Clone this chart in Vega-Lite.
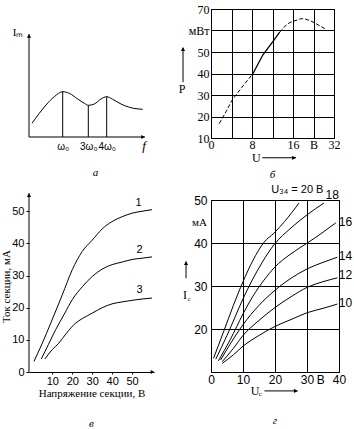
{
  "$schema": "https://vega.github.io/schema/vega-lite/v6.json",
  "background": "white",
  "padding": {"left": 0, "top": 2, "right": 0, "bottom": 0},
  "config": {
    "view": {"stroke": null},
    "axis": {"labelColor": "black", "titleColor": "black", "domainColor": "black", "tickColor": "black", "gridColor": "black", "gridOpacity": 1, "domainWidth": 1, "gridWidth": 1, "labelFont": "Liberation Sans", "titleFont": "Liberation Serif", "titleFontWeight": "normal", "labelFontSize": 11, "titleFontSize": 11, "labelFlush": false, "labelOverlap": false},
    "line": {"color": "black", "strokeWidth": 1},
    "rule": {"color": "black", "strokeWidth": 1},
    "text": {"color": "black", "font": "Liberation Sans", "fontSize": 11},
    "point": {"color": "black", "filled": true, "opacity": 1},
    "title": {"font": "Liberation Serif", "fontStyle": "italic", "fontWeight": "normal", "fontSize": 11, "color": "black"}
  },
  "columns": 2,
  "align": "none",
  "bounds": "flush",
  "spacing": {"row": 62, "column": 49},
  "concat": [
    {
      "width": 133, "height": 129,
      "title": {"text": "а", "offset": 14, "orient": "bottom"},
      "encoding": {
        "x": {"field": "x", "type": "quantitative", "scale": {"domain": [0, 133], "nice": false, "zero": false}, "axis": {"title": null, "domain": false, "ticks": false, "grid": false, "values": [33.7, 59.3, 77.7], "labelExpr": "datum.value < 40 ? 'ω₀' : (datum.value < 70 ? '3ω₀' : '4ω₀')", "labelFontSize": 10, "labelPadding": 3}},
        "y": {"field": "y", "type": "quantitative", "scale": {"domain": [-1, 128], "nice": false, "zero": false}, "axis": null}
      },
      "layer": [
        {
          "data": {"values": [{"x": 3, "y": 13.7}, {"x": 10.3, "y": 23.7}, {"x": 17, "y": 32}, {"x": 25.3, "y": 40.3}, {"x": 33.7, "y": 45.3}, {"x": 40.3, "y": 43.7}, {"x": 48.7, "y": 38}, {"x": 55.3, "y": 33.7}, {"x": 59.3, "y": 31.7}, {"x": 65.3, "y": 33}, {"x": 72, "y": 38}, {"x": 77.7, "y": 40.3}, {"x": 83.7, "y": 37.7}, {"x": 92, "y": 33}, {"x": 100.3, "y": 29.7}, {"x": 113.7, "y": 27.7}]},
          "mark": {"type": "line", "interpolate": "monotone"}
        },
        {
          "data": {"values": [{"x": 33.7, "y": 0, "y2": 45.3}, {"x": 59.3, "y": 0, "y2": 31.7}, {"x": 77.7, "y": 0, "y2": 40.3}]},
          "mark": "rule",
          "encoding": {"y2": {"field": "y2"}}
        },
        {
          "data": {"values": [{"x": 0, "x2": 116, "y": 0}]},
          "mark": "rule",
          "encoding": {"x2": {"field": "x2"}}
        },
        {
          "data": {"values": [{"x": 0, "y": 0, "y2": 103}]},
          "mark": "rule",
          "encoding": {"y2": {"field": "y2"}}
        },
        {
          "data": {"values": [{"x": 0, "y": 101}]},
          "mark": {"type": "point", "shape": "triangle-up", "size": 18}
        },
        {
          "data": {"values": [{"x": 114, "y": 0}]},
          "mark": {"type": "point", "shape": "triangle-right", "size": 18}
        },
        {
          "data": {"values": [{"label": "Iₘ", "x": -11, "y": 104}]},
          "mark": {"type": "text", "font": "Liberation Serif", "fontSize": 11},
          "encoding": {"text": {"field": "label", "type": "nominal"}}
        },
        {
          "data": {"values": [{"label": "f", "x": 115, "y": -9}]},
          "mark": {"type": "text", "font": "Liberation Serif", "fontStyle": "italic", "fontSize": 13},
          "encoding": {"text": {"field": "label", "type": "nominal"}}
        }
      ]
    },
    {
      "width": 123, "height": 129,
      "view": {"stroke": "black", "strokeWidth": 1},
      "title": {"text": "б", "offset": 5, "orient": "bottom"},
      "encoding": {
        "x": {"field": "x", "type": "quantitative", "scale": {"domain": [0, 24], "nice": false, "zero": false}, "axis": {"title": null, "values": [0, 4, 8, 12, 16, 20, 24], "grid": true, "ticks": false, "domain": false, "labelFont": "Liberation Serif", "labelFontSize": 12, "labelPadding": 1, "labelExpr": "datum.value == 0 ? '0' : datum.value == 8 ? '8' : datum.value == 16 ? '16' : datum.value == 20 ? 'В' : datum.value == 24 ? '32' : ''"}},
        "y": {"field": "y", "type": "quantitative", "scale": {"domain": [10, 70], "nice": false, "zero": false}, "axis": {"title": null, "values": [10, 20, 30, 40, 50, 60, 70], "grid": true, "ticks": false, "domain": false, "labelFont": "Liberation Serif", "labelFontSize": 12, "labelPadding": 2, "labelExpr": "datum.value == 60 ? 'мВт' : datum.label"}}
      },
      "layer": [
        {
          "data": {"values": [{"x": 1.6, "y": 16.7}, {"x": 3, "y": 22.5}, {"x": 4.1, "y": 27.6}, {"x": 6, "y": 33.5}, {"x": 8.2, "y": 40}]},
          "mark": {"type": "line", "strokeDash": [4, 2]}
        },
        {
          "data": {"values": [{"x": 8.2, "y": 40}, {"x": 10.1, "y": 48.6}, {"x": 12.1, "y": 54.9}, {"x": 13.4, "y": 59.2}]},
          "mark": {"type": "line", "strokeWidth": 1.3}
        },
        {
          "data": {"values": [{"x": 13.4, "y": 59.2}, {"x": 15, "y": 63.1}, {"x": 16.6, "y": 64.7}, {"x": 17.8, "y": 65.5}, {"x": 19.2, "y": 64.7}, {"x": 20.9, "y": 62.6}, {"x": 22.4, "y": 60.6}]},
          "mark": {"type": "line", "interpolate": "monotone", "strokeDash": [4, 2]}
        },
        {
          "data": {"values": [{"x": -5.46, "y": 36, "y2": 52}]},
          "mark": "rule",
          "encoding": {"y2": {"field": "y2"}}
        },
        {
          "data": {"values": [{"x": -5.46, "y": 51.3}]},
          "mark": {"type": "point", "shape": "triangle-up", "size": 18}
        },
        {
          "data": {"values": [{"x": 10, "x2": 16.6, "y": 0.8}]},
          "mark": "rule",
          "encoding": {"x2": {"field": "x2"}}
        },
        {
          "data": {"values": [{"x": 16.2, "y": 0.8}]},
          "mark": {"type": "point", "shape": "triangle-right", "size": 18}
        },
        {
          "data": {"values": [{"label": "P", "x": -5.66, "y": 32.8}, {"label": "U", "x": 8.84, "y": 0.8}]},
          "mark": {"type": "text", "font": "Liberation Serif", "fontSize": 12},
          "encoding": {"text": {"field": "label", "type": "nominal"}}
        }
      ]
    },
    {
      "width": 125, "height": 172,
      "title": {"text": "в", "offset": 20, "orient": "bottom"},
      "encoding": {
        "x": {"field": "x", "type": "quantitative", "scale": {"domain": [-1.7, 61], "nice": false, "zero": false}, "axis": {"title": "Напряжение секции, В", "values": [10, 20, 30, 40, 50], "grid": false, "ticks": true, "tickSize": 2, "domain": true, "labelPadding": 1, "titlePadding": 1}},
        "y": {"field": "y", "type": "quantitative", "scale": {"domain": [0, 53.5], "nice": false, "zero": false}, "axis": {"title": "Ток секции, мА", "values": [0, 10, 20, 30, 40, 50], "grid": false, "domain": false, "ticks": true, "tickSize": 3, "labelPadding": 2, "titlePadding": 0}}
      },
      "layer": [
        {
          "data": {"values": [
            {"n": "1", "x": 0.8, "y": 3.3}, {"n": "1", "x": 5, "y": 9}, {"n": "1", "x": 9.2, "y": 15.2}, {"n": "1", "x": 15, "y": 24}, {"n": "1", "x": 20, "y": 31.8}, {"n": "1", "x": 25, "y": 37.5}, {"n": "1", "x": 30, "y": 41}, {"n": "1", "x": 35, "y": 44.5}, {"n": "1", "x": 40, "y": 46.8}, {"n": "1", "x": 45, "y": 48.3}, {"n": "1", "x": 50, "y": 49.4}, {"n": "1", "x": 55, "y": 50}, {"n": "1", "x": 60, "y": 50.5},
            {"n": "2", "x": 4.5, "y": 4.1}, {"n": "2", "x": 8, "y": 8.5}, {"n": "2", "x": 11.7, "y": 13.2}, {"n": "2", "x": 16, "y": 18}, {"n": "2", "x": 20, "y": 22.5}, {"n": "2", "x": 25, "y": 26.5}, {"n": "2", "x": 30, "y": 29.7}, {"n": "2", "x": 35, "y": 32}, {"n": "2", "x": 40, "y": 33.4}, {"n": "2", "x": 45, "y": 34.2}, {"n": "2", "x": 50, "y": 35}, {"n": "2", "x": 55, "y": 35.4}, {"n": "2", "x": 60, "y": 35.8},
            {"n": "3", "x": 6.3, "y": 4.1}, {"n": "3", "x": 10, "y": 7}, {"n": "3", "x": 13.3, "y": 9}, {"n": "3", "x": 17, "y": 12}, {"n": "3", "x": 21.7, "y": 15.2}, {"n": "3", "x": 25, "y": 16.6}, {"n": "3", "x": 30, "y": 18.3}, {"n": "3", "x": 35, "y": 20}, {"n": "3", "x": 40, "y": 21.2}, {"n": "3", "x": 45, "y": 21.8}, {"n": "3", "x": 50, "y": 22.3}, {"n": "3", "x": 55, "y": 22.7}, {"n": "3", "x": 60, "y": 23}
          ]},
          "mark": {"type": "line", "interpolate": "monotone"},
          "encoding": {"detail": {"field": "n", "type": "nominal"}}
        },
        {
          "data": {"values": [{"x": -1.7, "y": 0, "y2": 55.6}]},
          "mark": "rule",
          "encoding": {"y2": {"field": "y2"}}
        },
        {
          "data": {"values": [{"x": -1.7, "y": 55}]},
          "mark": {"type": "point", "shape": "triangle-up", "size": 18}
        },
        {
          "data": {"values": [{"x": 60.3, "y": 0}]},
          "mark": {"type": "point", "shape": "triangle-right", "size": 18}
        },
        {
          "data": {"values": [{"n": "1", "x": 53.3, "y": 52.6}, {"n": "2", "x": 53.7, "y": 38}, {"n": "3", "x": 53.7, "y": 25.6}]},
          "mark": {"type": "text", "fontSize": 11},
          "encoding": {"text": {"field": "n", "type": "nominal"}}
        }
      ]
    },
    {
      "width": 128, "height": 172,
      "view": {"stroke": "black", "strokeWidth": 1},
      "title": {"text": "г", "offset": 18, "orient": "bottom"},
      "encoding": {
        "x": {"field": "x", "type": "quantitative", "scale": {"domain": [0, 40], "nice": false, "zero": false}, "axis": {"title": null, "values": [0, 10, 20, 30, 40], "grid": true, "ticks": false, "domain": false, "labelFontSize": 12, "labelPadding": 2}},
        "y": {"field": "y", "type": "quantitative", "scale": {"domain": [10, 50], "nice": false, "zero": false}, "axis": {"title": null, "values": [20, 30, 40, 50], "grid": true, "ticks": false, "domain": false, "labelFontSize": 12, "labelPadding": 4}}
      },
      "layer": [
        {
          "data": {"values": [
            {"k": 20, "x": 0.8, "y": 13.2}, {"k": 20, "x": 4, "y": 19.5}, {"k": 20, "x": 7, "y": 25.5}, {"k": 20, "x": 10, "y": 31}, {"k": 20, "x": 13, "y": 35.8}, {"k": 20, "x": 16.6, "y": 40.2}, {"k": 20, "x": 19.7, "y": 42.3}, {"k": 20, "x": 23, "y": 45}, {"k": 20, "x": 27.5, "y": 49.3},
            {"k": 18, "x": 1.5, "y": 13}, {"k": 18, "x": 5, "y": 18.5}, {"k": 18, "x": 10, "y": 27}, {"k": 18, "x": 12.9, "y": 31.4}, {"k": 18, "x": 16, "y": 35.5}, {"k": 18, "x": 19.7, "y": 39.6}, {"k": 18, "x": 25, "y": 43.5}, {"k": 18, "x": 30.1, "y": 46.6}, {"k": 18, "x": 35.3, "y": 49.3},
            {"k": 16, "x": 2.3, "y": 12.6}, {"k": 16, "x": 6, "y": 17.5}, {"k": 16, "x": 10, "y": 23.5}, {"k": 16, "x": 13, "y": 27.5}, {"k": 16, "x": 16.6, "y": 31.4}, {"k": 16, "x": 19.7, "y": 34.2}, {"k": 16, "x": 25, "y": 37.5}, {"k": 16, "x": 30.1, "y": 40}, {"k": 16, "x": 35, "y": 42.5}, {"k": 16, "x": 39, "y": 44.7},
            {"k": 14, "x": 3, "y": 12.8}, {"k": 14, "x": 6, "y": 16.5}, {"k": 14, "x": 10, "y": 21}, {"k": 14, "x": 15, "y": 25.5}, {"k": 14, "x": 20, "y": 29}, {"k": 14, "x": 25, "y": 31.8}, {"k": 14, "x": 30.1, "y": 34}, {"k": 14, "x": 35, "y": 35.5}, {"k": 14, "x": 39.5, "y": 36.7},
            {"k": 12, "x": 3.5, "y": 12.4}, {"k": 12, "x": 7, "y": 15.5}, {"k": 12, "x": 10, "y": 18.5}, {"k": 12, "x": 15, "y": 22}, {"k": 12, "x": 20, "y": 25}, {"k": 12, "x": 25, "y": 27.5}, {"k": 12, "x": 30.1, "y": 29.7}, {"k": 12, "x": 35, "y": 31}, {"k": 12, "x": 39.5, "y": 31.9},
            {"k": 10, "x": 3.5, "y": 12}, {"k": 10, "x": 7, "y": 14}, {"k": 10, "x": 10, "y": 16}, {"k": 10, "x": 15, "y": 18.5}, {"k": 10, "x": 20, "y": 20.6}, {"k": 10, "x": 25, "y": 22.2}, {"k": 10, "x": 30.1, "y": 23.8}, {"k": 10, "x": 35, "y": 24.8}, {"k": 10, "x": 39.5, "y": 25.8}
          ]},
          "mark": {"type": "line", "interpolate": "monotone"},
          "encoding": {"detail": {"field": "k", "type": "nominal"}}
        },
        {
          "data": {"values": [{"t": "18", "x": 37.9, "y": 51.2}, {"t": "16", "x": 42, "y": 44.8}, {"t": "14", "x": 42, "y": 37}, {"t": "12", "x": 42, "y": 32.6}, {"t": "10", "x": 42, "y": 26}, {"t": "В", "x": 34.3, "y": 8.2}]},
          "mark": {"type": "text", "fontSize": 12},
          "encoding": {"text": {"field": "t", "type": "nominal"}}
        },
        {
          "data": {"values": [{"t": "U₃₄ = 20 В", "x": 27, "y": 52.4}]},
          "mark": {"type": "text", "fontSize": 11},
          "encoding": {"text": {"field": "t", "type": "nominal"}}
        },
        {
          "data": {"values": [{"t": "мА", "x": -1.3, "y": 44.6}]},
          "mark": {"type": "text", "font": "Liberation Serif", "fontSize": 11, "align": "right"},
          "encoding": {"text": {"field": "t", "type": "nominal"}}
        },
        {
          "data": {"values": [{"t": "I", "x": -8.1, "y": 27.9}, {"t": "U", "x": 13.75, "y": 5.6}]},
          "mark": {"type": "text", "font": "Liberation Serif", "fontSize": 12},
          "encoding": {"text": {"field": "t", "type": "nominal"}}
        },
        {
          "data": {"values": [{"t": "с", "x": -6.8, "y": 27.0}, {"t": "с", "x": 15.4, "y": 4.9}]},
          "mark": {"type": "text", "font": "Liberation Serif", "fontSize": 7},
          "encoding": {"text": {"field": "t", "type": "nominal"}}
        },
        {
          "data": {"values": [{"x": -7.8, "y": 31.8, "y2": 35.7}]},
          "mark": "rule",
          "encoding": {"y2": {"field": "y2"}}
        },
        {
          "data": {"values": [{"x": -7.8, "y": 35.3}]},
          "mark": {"type": "point", "shape": "triangle-up", "size": 18}
        },
        {
          "data": {"values": [{"x": 16.7, "x2": 27.1, "y": 5.6}]},
          "mark": "rule",
          "encoding": {"x2": {"field": "x2"}}
        },
        {
          "data": {"values": [{"x": 26.5, "y": 5.6}]},
          "mark": {"type": "point", "shape": "triangle-right", "size": 18}
        }
      ]
    }
  ]
}
